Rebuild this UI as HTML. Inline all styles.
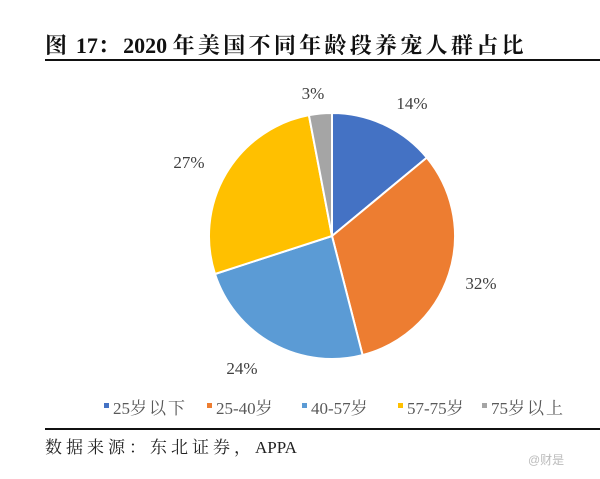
<!DOCTYPE html>
<html><head><meta charset="utf-8"><style>
body{margin:0;width:600px;height:479px;background:#fff;position:relative;overflow:hidden;font-family:"Liberation Serif","Noto Serif CJK SC",serif;}
.t{position:absolute;white-space:nowrap}
.c{letter-spacing:2px}
.ct{letter-spacing:3.3px}
</style></head><body>
<div class="t" style="left:45px;top:29px;font-size:22px;font-weight:bold;color:#111"><span class="ct">图</span> 17<span class="ct">：</span>2020 <span class="ct">年美国不同年龄段养宠人群占比</span></div>
<div style="position:absolute;left:45px;top:59px;width:555px;height:2px;background:#111"></div>
<svg width="600" height="479" style="position:absolute;left:0;top:0">
<g stroke="#fff" stroke-width="2" stroke-linejoin="round">
<path d="M332,236 L332,113 A123,123 0 0 1 426.8,157.6 Z" fill="#4472C4"/>
<path d="M332,236 L426.8,157.6 A123,123 0 0 1 362.6,355.1 Z" fill="#ED7D31"/>
<path d="M332,236 L362.6,355.1 A123,123 0 0 1 215.0,274.0 Z" fill="#5B9BD5"/>
<path d="M332,236 L215.0,274.0 A123,123 0 0 1 308.9,115.2 Z" fill="#FFC000"/>
<path d="M332,236 L308.9,115.2 A123,123 0 0 1 332,113 Z" fill="#A5A5A5"/>
</g>
<g font-family="Liberation Serif, serif" font-size="17" fill="#404040" text-anchor="middle">
<text x="412" y="109">14%</text>
<text x="481" y="289">32%</text>
<text x="242" y="374">24%</text>
<text x="189" y="168">27%</text>
<text x="313" y="99">3%</text>
</g>
<rect x="104" y="403" width="5" height="5" fill="#4472C4"/>
<rect x="207" y="403" width="5" height="5" fill="#ED7D31"/>
<rect x="302" y="403" width="5" height="5" fill="#5B9BD5"/>
<rect x="398" y="403" width="5" height="5" fill="#FFC000"/>
<rect x="482" y="403" width="5" height="5" fill="#A5A5A5"/>
</svg>
<div class="t" style="left:113px;top:394px;font-size:17px;color:#595959">25<span class="c">岁以下</span></div>
<div class="t" style="left:216px;top:394px;font-size:17px;color:#595959">25-40<span class="c">岁</span></div>
<div class="t" style="left:311px;top:394px;font-size:17px;color:#595959">40-57<span class="c">岁</span></div>
<div class="t" style="left:407px;top:394px;font-size:17px;color:#595959">57-75<span class="c">岁</span></div>
<div class="t" style="left:491px;top:394px;font-size:17px;color:#595959">75<span class="c">岁以上</span></div>
<div style="position:absolute;left:45px;top:428px;width:555px;height:2px;background:#111"></div>
<div class="t" style="left:45px;top:433px;font-size:17px;color:#222"><span style="letter-spacing:4px">数据来源：东北证券，</span>APPA</div>
<div class="t" style="left:528px;top:451px;font-size:12px;color:#bbb;font-family:'Liberation Sans','Noto Sans CJK SC',sans-serif">@财是</div>
</body></html>
